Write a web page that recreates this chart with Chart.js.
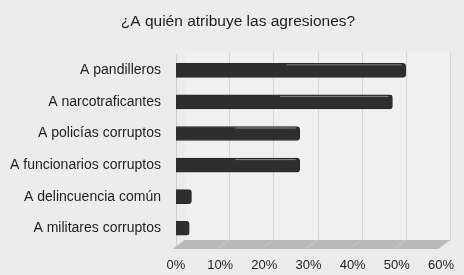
<!DOCTYPE html>
<html><head><meta charset="utf-8">
<script src="https://cdn.jsdelivr.net/npm/chart.js@4/dist/chart.umd.min.js"></script>
<style>html,body{margin:0;padding:0;background:#ececec;}#w{width:464px;height:275px;}</style>
</head><body><div id="w"><canvas id="c" width="464" height="275"></canvas></div>
<script>
const title = "¿A quién atribuye las agresiones?";
const categories = ["A pandilleros","A narcotraficantes","A policías corruptos","A funcionarios corruptos","A delincuencia común","A militares corruptos"];
const values = [52, 49, 28, 28, 3.5, 3];
const xTicks = [0,10,20,30,40,50,60];

const depth = 9;
const scene = {
  id:'scene',
  afterLayout(chart){
    const t = chart.titleBlock;
    if (t) { t.left = 12; t.right = 464; }
  },
  beforeDatasetsDraw(chart){
    const {ctx, chartArea:a, scales:{x}} = chart;
    ctx.save();
    ctx.fillStyle = '#f0f0f0';
    ctx.fillRect(a.left+depth, a.top-3, x.getPixelForValue(60)-a.left, a.bottom-a.top);
    ctx.strokeStyle = '#cfcfcf'; ctx.lineWidth = 1;
    ctx.beginPath(); ctx.moveTo(a.left+0.5, a.top); ctx.lineTo(a.left+0.5, a.bottom+4); ctx.stroke();
    ctx.strokeStyle = '#d6d6d6';
    xTicks.forEach(v=>{ if(v===0) return; const px = Math.round(x.getPixelForValue(v)+depth)+0.5;
      ctx.beginPath(); ctx.moveTo(px, a.top-3); ctx.lineTo(px, a.bottom-3); ctx.stroke(); });
    ctx.fillStyle = '#b9b9b9';
    ctx.beginPath();
    ctx.moveTo(a.left-3, a.bottom+5);
    ctx.lineTo(x.getPixelForValue(60)-3, a.bottom+5);
    ctx.lineTo(x.getPixelForValue(60)+depth, a.bottom-4);
    ctx.lineTo(a.left+depth, a.bottom-4);
    ctx.closePath(); ctx.fill();
    ctx.strokeStyle = '#c8c8c8';
    xTicks.forEach(v=>{ const px = x.getPixelForValue(v);
      ctx.beginPath(); ctx.moveTo(px-3, a.bottom+5); ctx.lineTo(px+depth, a.bottom-4); ctx.stroke(); });
    ctx.restore();
  },
  afterDatasetsDraw(chart){
    const {ctx} = chart; const meta = chart.getDatasetMeta(0);
    ctx.save(); ctx.strokeStyle = 'rgba(200,200,200,0.55)'; ctx.lineWidth = 1;
    meta.data.forEach(el=>{ const mid = el.base + (el.x-el.base)*0.48; if(el.x-el.base < 30) return;
      ctx.beginPath(); ctx.moveTo(mid, el.y-5.5); ctx.lineTo(el.x-4, el.y-5.5); ctx.stroke(); });
    ctx.restore();
  }
};

new Chart(document.getElementById('c'), {
  type:'bar',
  data:{ labels: categories, datasets:[{ data: values,
    backgroundColor(ctx){ const c = ctx.chart.ctx; const a = ctx.chart.chartArea; if(!a) return '#3c3c3c';
      const el = ctx.element; const y = el && el.y ? el.y : 0;
      const g = c.createLinearGradient(0, y-7, 0, y+7);
      g.addColorStop(0,'#353535'); g.addColorStop(0.2,'#4e4e4e'); g.addColorStop(0.55,'#404040'); g.addColorStop(1,'#2e2e2e');
      return g; },
    borderColor:'#282828', borderWidth:1, borderRadius:{topRight:3,bottomRight:3}, borderSkipped:'start',
    barThickness:14 }]},
  options:{
    indexAxis:'y', responsive:false, animation:false, devicePixelRatio:1,
    layout:{ padding:{ left:8, right:23, top:0, bottom:0 } },
    plugins:{ legend:{display:false}, tooltip:{enabled:false},
      title:{ display:true, text:title, color:'#1e1e1e', font:{family:'Liberation Sans, Arial', size:15.5, weight:'normal'}, padding:{top:12,bottom:24} } },
    scales:{
      x:{ min:0, max:60, afterBuildTicks(s){ s.ticks = xTicks.map(v=>({value:v})); },
        afterFit(s){ s.height = 31; s.paddingLeft = 0; s.paddingRight = 0; },
        ticks:{ callback:v=>v+'%', color:'#1e1e1e', font:{family:'Liberation Sans, Arial', size:13}, padding:14 },
        grid:{ display:false, drawTicks:false }, border:{display:false} },
      y:{ afterFit(s){ s.width = 168; },
        ticks:{ color:'#1e1e1e', font:{family:'Liberation Sans, Arial', size:14}, padding:15 },
        grid:{ display:false, drawTicks:false }, border:{display:false} }
    }
  },
  plugins:[scene]
});
</script></body></html>
